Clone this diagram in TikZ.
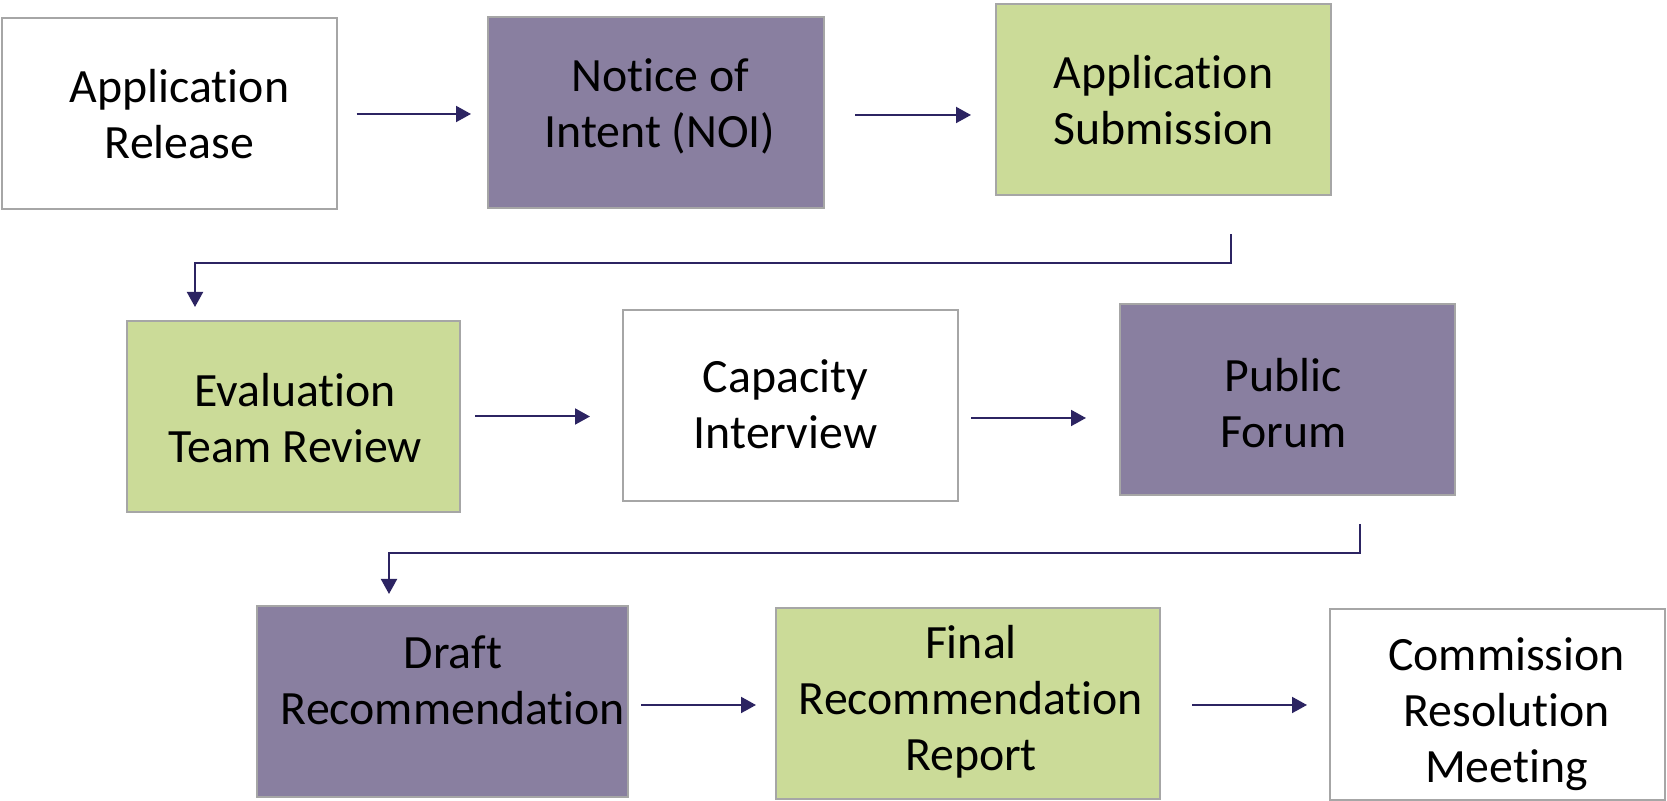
\documentclass[tikz,border=0pt]{standalone}
\usepackage{fontspec}
\setmainfont{Carlito}[Ligatures=NoCommon]
\usetikzlibrary{arrows.meta,calc}
\definecolor{boxpurple}{RGB}{137,127,160}
\definecolor{boxgreen}{RGB}{203,219,152}
\definecolor{boxborder}{RGB}{166,166,166}
\definecolor{arrcol}{RGB}{44,36,98}
\tikzset{
  stepbox/.style={draw=boxborder, line width=1pt, rectangle, inner sep=0pt,
    minimum height=95.5pt, minimum width=167.5pt},
  lbl/.style={align=center, font=\fontsize{23.9}{28}\selectfont, text=black, inner sep=0pt},
  arr/.style={draw=arrcol, line width=1pt, -{Triangle[length=7.5pt,width=8pt]}}
}
\begin{document}
\begin{tikzpicture}[x=0.5pt,y=-0.5pt]
\useasboundingbox (0,0) rectangle (1667,801);
% row 1
\node[stepbox, fill=white] (b1) at (169,114) {};
\node[lbl] (t1) at (179.5,114) {Application\\Release};
\node[stepbox, fill=boxpurple, minimum width=168pt] (b2) at (656,112.5) {};
\node[lbl] (t2) at (660,106) {Notice of\\Intent (NOI)};
\node[stepbox, fill=boxgreen] (b3) at (1163.5,100) {};
\node[lbl] (t3) at (1163.5,100) {Application\\Submission};
% row 2
\node[stepbox, fill=boxgreen, minimum width=166.5pt] (b4) at (293.5,416.5) {};
\node[lbl] (t4) at (295,418) {Evaluation\\Team Review};
\node[stepbox, fill=white] (b5) at (790.5,406) {};
\node[lbl] (t5) at (785.5,404) {Capacity\\Interview};
\node[stepbox, fill=boxpurple] (b6) at (1287.5,399.5) {};
\node[lbl] (t6) at (1283.5,403) {Public\\Forum};
% row 3
\node[stepbox, fill=boxpurple, minimum width=185.5pt] (b7) at (442.5,701.5) {};
\node[lbl] (t7) at (453,680) {Draft\\Recommendation};
\node[stepbox, fill=boxgreen, minimum width=192pt] (b8) at (968,703.5) {};
\node[lbl] (t8) at (971,702) {Final\\Recommendation\\Report};
\node[stepbox, fill=white] (b9) at (1497.5,704.5) {};
\node[lbl] (t9) at (1506.5,714) {Commission\\Resolution\\Meeting};
% horizontal arrows
\draw[arr, shorten <=9.5pt, shorten >=8pt] (b1.east) -- (b1.east -| b2.west);
\draw[arr, shorten <=15pt, shorten >=12pt] ([yshift=-1.25pt]b2.east) -- ([yshift=-1.25pt]b2.east -| b3.west);
\draw[arr, shorten <=7pt, shorten >=16pt] (b4.east) -- (b4.east -| b5.west);
\draw[arr, shorten <=6pt, shorten >=16.5pt] ([yshift=-6pt]b5.east) -- ([yshift=-6pt]b5.east -| b6.west);
\draw[arr, shorten <=6pt, shorten >=9.5pt] ([yshift=-1.75pt]b7.east) -- ([yshift=-1.75pt]b7.east -| b8.west);
\draw[arr, shorten <=15.5pt, shorten >=11pt] ([yshift=-0.75pt]b8.east) -- ([yshift=-0.75pt]b8.east -| b9.west);
% elbow connectors
\coordinate (s1) at ([shift={(67.5,38)}]b3.south);
\coordinate (e1) at ([shift={(-98.5,-13)}]b4.north);
\coordinate (k1) at (0,263);
\draw[arr] (s1) -- (s1 |- k1) -- (e1 |- k1) -- (e1);
\coordinate (s2) at ([shift={(72.5,28)}]b6.south);
\coordinate (e2) at ([shift={(-53.5,-11)}]b7.north);
\coordinate (k2) at (0,553);
\draw[arr] (s2) -- (s2 |- k2) -- (e2 |- k2) -- (e2);
\end{tikzpicture}
\end{document}
